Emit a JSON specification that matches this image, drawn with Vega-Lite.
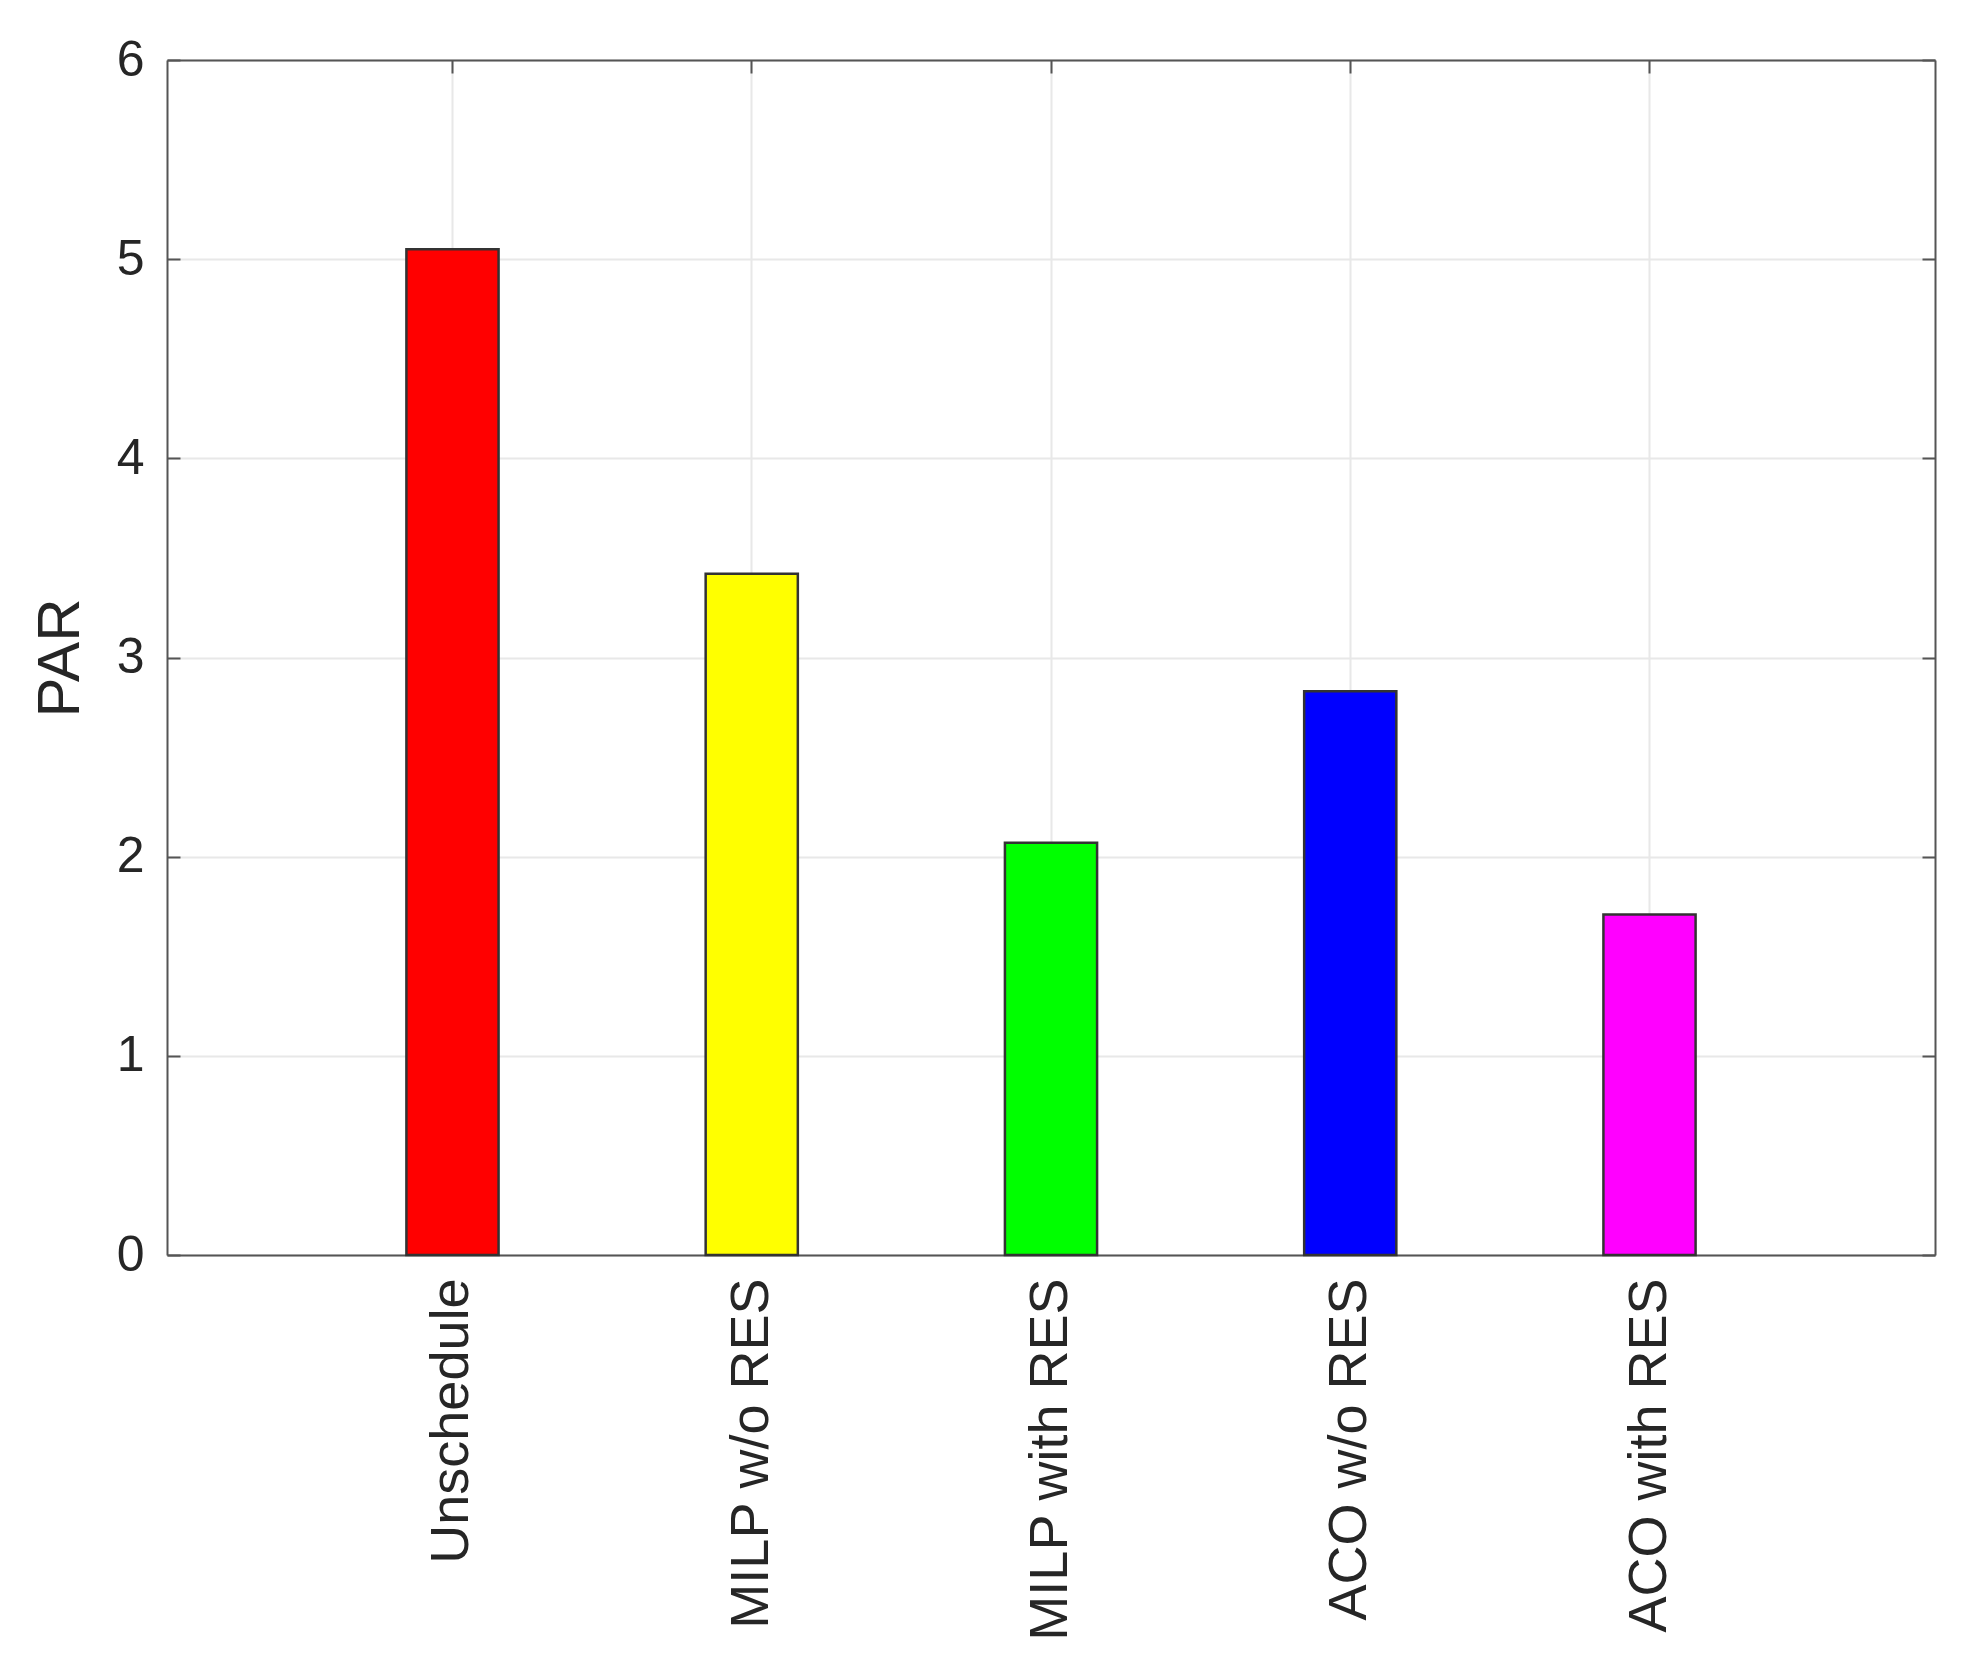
{
  "$schema": "https://vega.github.io/schema/vega-lite/v6.json",
  "width": 1768,
  "height": 1195,
  "autosize": "none",
  "padding": {"left": 167, "top": 60, "right": 39, "bottom": 420},
  "background": "white",
  "config": {
    "view": {"stroke": null},
    "font": "Liberation Sans",
    "axis": {
      "domainColor": "#555555",
      "domainWidth": 2,
      "tickColor": "#555555",
      "tickWidth": 2,
      "gridColor": "#e8e8e8",
      "gridWidth": 2,
      "labelColor": "#262626",
      "titleColor": "#262626",
      "labelFont": "Liberation Sans",
      "titleFont": "Liberation Sans"
    }
  },
  "data": {
    "values": [
      {"method": "Unschedule", "order": 1, "par": 5.05},
      {"method": "MILP w/o RES", "order": 2, "par": 3.42},
      {"method": "MILP with RES", "order": 3, "par": 2.07},
      {"method": "ACO w/o RES", "order": 4, "par": 2.83},
      {"method": "ACO with RES", "order": 5, "par": 1.71}
    ]
  },
  "layer": [
    {
      "mark": {"type": "bar", "stroke": "#333333", "strokeWidth": 2.5},
      "encoding": {
        "x": {
          "field": "method",
          "type": "nominal",
          "sort": {"field": "order"},
          "scale": {"paddingInner": 0.692, "paddingOuter": 0.8},
          "axis": {
            "orient": "bottom",
            "title": null,
            "labelAngle": 270,
            "labelFontSize": 54,
            "labelPadding": 36,
            "labelOverlap": false,
            "labelLimit": 0,
            "tickSize": -13,
            "bandPosition": 0.5,
            "grid": true
          }
        },
        "y": {
          "field": "par",
          "type": "quantitative",
          "scale": {"domain": [0, 6], "nice": false},
          "axis": {
            "orient": "left",
            "title": "PAR",
            "titleFontSize": 60,
            "titleFontWeight": "normal",
            "titleX": -76,
            "labelFontSize": 50,
            "labelPadding": 36,
            "labelFlush": false,
            "tickSize": -13,
            "values": [0, 1, 2, 3, 4, 5, 6],
            "grid": true
          }
        },
        "color": {
          "field": "method",
          "type": "nominal",
          "sort": {"field": "order"},
          "scale": {
            "domain": ["Unschedule", "MILP w/o RES", "MILP with RES", "ACO w/o RES", "ACO with RES"],
            "range": ["#ff0000", "#ffff00", "#00ff00", "#0000ff", "#ff00ff"]
          },
          "legend": null
        }
      }
    },
    {
      "mark": {"type": "bar", "opacity": 0},
      "encoding": {
        "x": {
          "field": "method",
          "type": "nominal",
          "sort": {"field": "order"},
          "scale": {"paddingInner": 0.692, "paddingOuter": 0.8},
          "axis": {
            "orient": "top",
            "title": null,
            "labels": false,
            "tickSize": -13,
            "bandPosition": 0.5,
            "grid": false
          }
        },
        "y": {
          "field": "par",
          "type": "quantitative",
          "scale": {"domain": [0, 6], "nice": false},
          "axis": {
            "orient": "right",
            "title": null,
            "labels": false,
            "tickSize": -13,
            "values": [0, 1, 2, 3, 4, 5, 6],
            "grid": false
          }
        }
      }
    }
  ],
  "resolve": {"axis": {"x": "independent", "y": "independent"}}
}
